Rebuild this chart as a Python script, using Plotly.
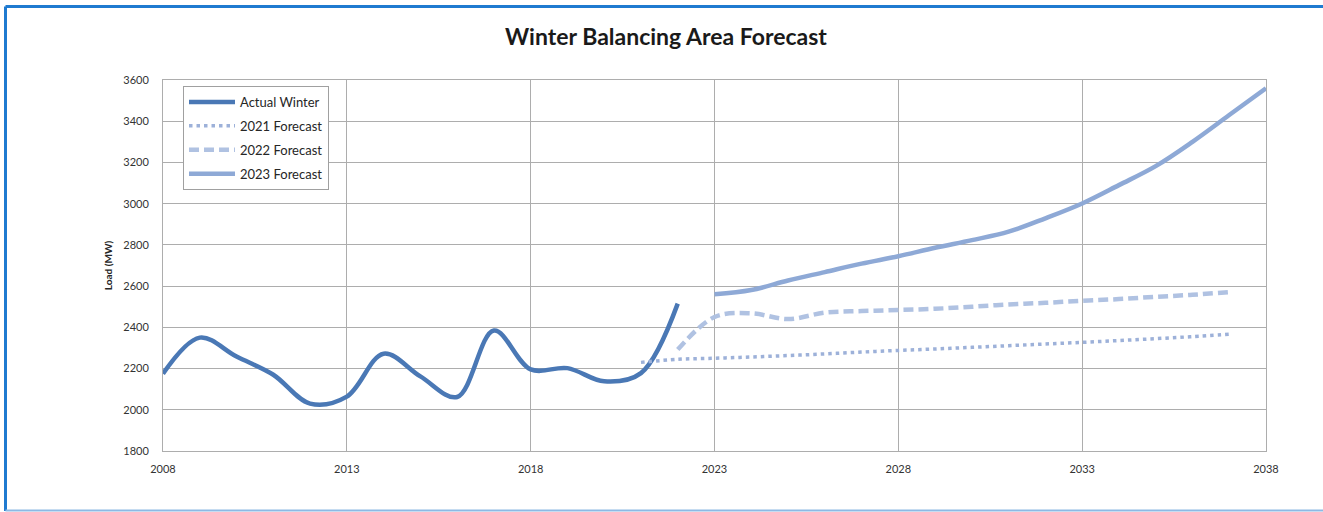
import plotly.graph_objects as go

# Winter peak load history and successive forecast vintages (MW)
actual_years = list(range(2008, 2023))
actual_load = [2175, 2350, 2258, 2170, 2030, 2064, 2272, 2162, 2062, 2385,
               2196, 2202, 2138, 2178, 2515]

f2021_years = list(range(2021, 2038))
f2021_load = [2230, 2245, 2250, 2256, 2263, 2271, 2280, 2288, 2295, 2303,
              2311, 2319, 2327, 2336, 2345, 2355, 2367]

f2022_years = list(range(2022, 2038))
f2022_load = [2292, 2450, 2468, 2440, 2471, 2479, 2484, 2490, 2500, 2511,
              2519, 2529, 2537, 2548, 2558, 2571]

f2023_years = list(range(2023, 2039))
f2023_load = [2560, 2581, 2627, 2668, 2709, 2745, 2786, 2823, 2864, 2929,
              3001, 3090, 3182, 3300, 3430, 3560]

x_ticks = [2008, 2013, 2018, 2023, 2028, 2033, 2038]
y_ticks = list(range(1800, 3601, 200))

FONT = "Lato, 'Open Sans', sans-serif"
GRID = "#ADADAD"

fig = go.Figure()

fig.add_trace(go.Scatter(
    x=actual_years, y=actual_load, name="Actual Winter", mode="lines",
    line=dict(color="#4A78B5", width=4.5, shape="spline", smoothing=1.0),
    legendgroup="a"))
fig.add_trace(go.Scatter(
    x=f2021_years, y=f2021_load, name="2021 Forecast", mode="lines",
    line=dict(color="#9DB1D9", width=3.5, dash="3.5px,4px", shape="spline", smoothing=1.0),
    legendgroup="b"))
fig.add_trace(go.Scatter(
    x=f2022_years, y=f2022_load, name="2022 Forecast", mode="lines",
    line=dict(color="#B0C2E2", width=4.5, dash="10px,5px", shape="spline", smoothing=1.0),
    legendgroup="c"))
fig.add_trace(go.Scatter(
    x=f2023_years, y=f2023_load, name="2023 Forecast", mode="lines",
    line=dict(color="#8EA9D6", width=4.5, shape="spline", smoothing=1.0),
    legendgroup="d"))

# Outer frame of the chart (paper coordinates)
L, R, T, B = 163, 1266, 80, 451
def px(xp):
    return (xp - L) / (R - L)
def py(yp):
    return (B - yp) / (B - T)

frame = [
    dict(x0=px(5.5), x1=px(1340), y0=py(6.5), y1=py(6.5), color="#1F7AD0", w=3),
    dict(x0=px(5.5), x1=px(5.5), y0=py(6.5), y1=py(511), color="#1F7AD0", w=3),
    dict(x0=px(5.5), x1=px(1340), y0=py(510.5), y1=py(510.5), color="#8DB9E4", w=2),
]
for s in frame:
    fig.add_shape(type="line", xref="paper", yref="paper",
                  x0=s["x0"], x1=s["x1"], y0=s["y0"], y1=s["y1"],
                  line=dict(color=s["color"], width=s["w"]), layer="above")

fig.update_layout(
    width=1323, height=512,
    margin=dict(l=L, r=1323 - R, t=T, b=512 - B),
    paper_bgcolor="white", plot_bgcolor="white",
    font=dict(family=FONT, color="#404040", size=11),
    title=dict(text="<b>Winter Balancing Area Forecast</b>",
               x=666 / 1323, xanchor="center", y=1 - 37 / 512, yanchor="middle",
               font=dict(family=FONT, size=23, color="#1A1A1A")),
    legend=dict(x=px(183), y=py(86), xanchor="left", yanchor="top",
                bgcolor="white", bordercolor="#A0A0A0", borderwidth=1,
                font=dict(family=FONT, size=13, color="#262626"),
                tracegroupgap=4, itemwidth=46),
    showlegend=True,
)

fig.update_xaxes(range=[2008, 2038], tickvals=x_ticks, ticktext=[str(v) for v in x_ticks],
                 showgrid=True, gridcolor=GRID, gridwidth=1,
                 showline=True, linecolor=GRID, linewidth=1, mirror=True,
                 zeroline=False, ticks="", ticklabelstandoff=8,
                 tickfont=dict(family=FONT, size=11, color="#333333"))
fig.update_yaxes(range=[1800, 3600], tickvals=y_ticks,
                 showgrid=True, gridcolor=GRID, gridwidth=1,
                 showline=True, linecolor=GRID, linewidth=1, mirror=True,
                 zeroline=False, ticks="", ticklabelstandoff=11,
                 tickfont=dict(family=FONT, size=11, color="#333333"),
                 title=dict(text="<b>Load (MW)</b>", standoff=8,
                            font=dict(family=FONT, size=10, color="#262626")))

fig.write_html("out.html")
